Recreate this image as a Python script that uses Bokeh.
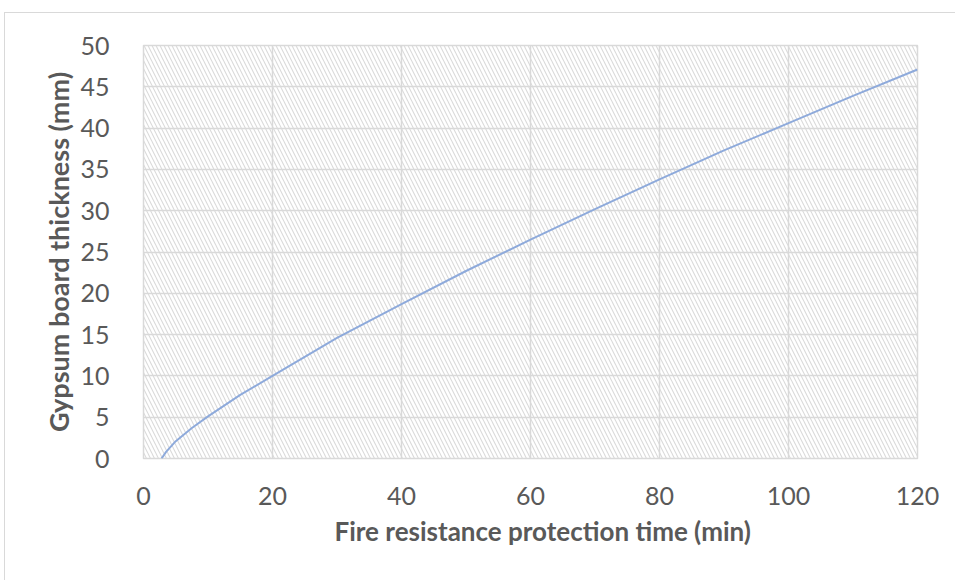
from bokeh.plotting import figure
from bokeh.models import Range1d, FixedTicker, BoxAnnotation, Title
from bokeh.embed import file_html
from bokeh.resources import INLINE

# Data
time_min = [2.8, 3.5, 5, 7.5, 10, 15, 20, 30, 40, 50, 60, 70, 80, 90, 100, 110, 120]
thickness_mm = [0, 0.8, 2.1, 3.7, 5.1, 7.7, 10.0, 14.6, 18.7, 22.7, 26.5, 30.2, 33.8, 37.3, 40.6, 43.9, 47.1]
x_ticks = [0, 20, 40, 60, 80, 100, 120]
y_ticks = [0, 5, 10, 15, 20, 25, 30, 35, 40, 45, 50]
x_title = "Fire resistance protection time (min)"
y_title = "Gypsum board thickness (mm)"

TXT = "#595959"
GRID = "#d9d9d9"
FONT = "Lato"

p = figure(width=951, height=568, output_backend="svg", toolbar_location=None,
           x_range=Range1d(0, 120), y_range=Range1d(0, 50),
           min_border_left=138, min_border_right=39, min_border_top=32, min_border_bottom=124,
           margin=(12, 0, 0, 4),
           styles={"border-top": "1px solid #d9d9d9", "border-left": "1px solid #d9d9d9"})
p.frame_width = 774
p.frame_height = 413

p.background_fill_color = "white"
p.border_fill_color = "white"
p.outline_line_color = GRID
p.outline_line_width = 1.5

hatch = BoxAnnotation(fill_alpha=0, line_alpha=0, hatch_pattern="left_diagonal_line",
                      hatch_color="#dadada", hatch_scale=8, hatch_weight=1.1, level="image")
p.add_layout(hatch)

for ax in (p.xaxis[0], p.yaxis[0]):
    ax.axis_line_color = None
    ax.major_tick_line_color = None
    ax.minor_tick_line_color = None
    ax.major_label_text_font = FONT
    ax.major_label_text_font_size = "25px"
    ax.major_label_text_color = TXT
    ax.axis_label_text_font = FONT
    ax.axis_label_text_font_style = "bold"
    ax.axis_label_text_font_size = "27px"
    ax.axis_label_text_color = TXT

p.xaxis.ticker = FixedTicker(ticks=x_ticks)
p.yaxis.ticker = FixedTicker(ticks=y_ticks)
p.xaxis.major_label_standoff = 22
p.yaxis.major_label_standoff = 28
p.yaxis.axis_label = y_title
p.yaxis.axis_label_standoff = 2

p.xgrid.ticker = FixedTicker(ticks=x_ticks)
p.ygrid.ticker = FixedTicker(ticks=y_ticks)
p.xgrid.grid_line_color = GRID
p.ygrid.grid_line_color = GRID
p.xgrid.grid_line_width = 1.5
p.ygrid.grid_line_width = 1.5

xt = Title(text=x_title, align="left", offset=191, text_font=FONT, text_font_style="bold",
           text_font_size="26px", text_color=TXT, standoff=10)
p.add_layout(xt, "below")

p.line(time_min, thickness_mm, line_color="#8eaadb", line_width=2)

open("out.html", "w").write(file_html(p, INLINE))
